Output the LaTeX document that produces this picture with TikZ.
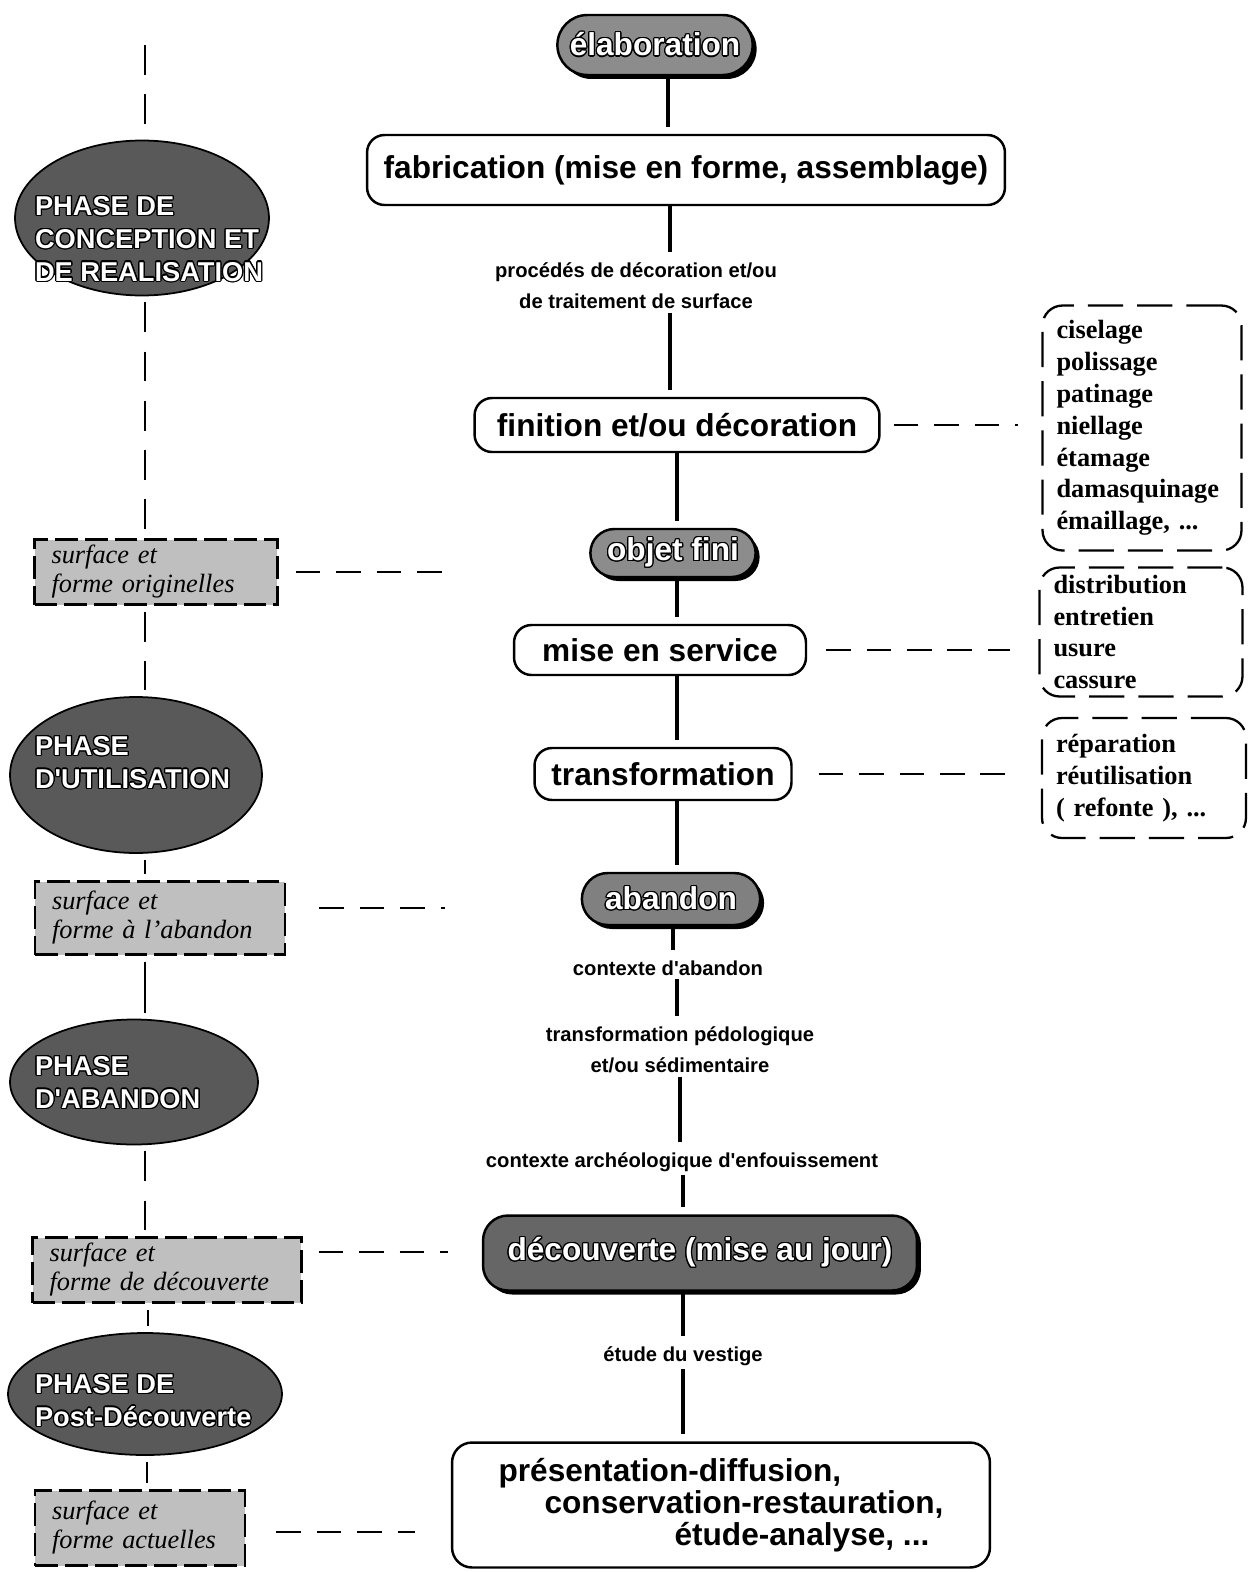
\documentclass[tikz,border=0pt]{standalone}
\usepackage{fontspec}
\setmainfont{Liberation Serif}
\newfontfamily\helv{Liberation Sans}
\usepackage{contour}
\contourlength{0.7pt}
\usetikzlibrary{shapes.geometric, shapes.misc, shadows}

% texte des phases : sans encombrement, place a la main
\newcommand{\phasetexte}[3]{\raisebox{#2}[0pt][0pt]{\makebox[0pt][l]{\hspace*{#1}\begin{tabular}{@{}l@{}}#3\end{tabular}}}}

\tikzset{
	phase/.style={ellipse, draw, line width=1pt, fill=black!65, text=white, inner sep=0pt, font=\helv\bfseries\fontsize{15.5}{18.7}\selectfont},
	etat/.style={rectangle, draw, line width=1.6pt, dash pattern=on 13pt off 4pt, fill=black!25, inner xsep=0.34cm, inner ysep=0pt, align=left, font=\itshape\fontsize{15}{16.5}\selectfont},
	etape/.style={rectangle, rounded corners=0.35cm, draw, line width=1.4pt, fill=white, font=\helv\bfseries\fontsize{18}{18.4}\selectfont},
	jalon/.style={rounded rectangle, draw, line width=1.4pt, fill=black!45, text=white, drop shadow={shadow xshift=0.08cm, shadow yshift=-0.08cm, fill=black, opacity=1}, font=\helv\bfseries\fontsize{18}{20}\selectfont},
	liste/.style={rectangle, rounded corners=0.4cm, draw, line width=1.3pt, dash pattern=on 20pt off 8pt, inner xsep=0.28cm, align=left, font=\bfseries\fontsize{15}{18.1}\selectfont},
	proc/.style={inner sep=2pt, align=center, font=\helv\bfseries\fontsize{11.5}{17.6}\selectfont},
	stem/.style={line width=2.3pt, shorten >=4pt},
	axe/.style={line width=1.5pt, dash pattern=on 17pt off 11pt, shorten <=0.12cm, shorten >=0.12cm},
	lien/.style={line width=1.2pt, dash pattern=on 14pt off 9pt}
}

\begin{document}
\begin{tikzpicture}[x=0.02cm, y=-0.02cm]
	\useasboundingbox (0,0) rectangle (1251,1572);

	% chaine operatoire
	\node at (655,45) [jalon, minimum width=4.14cm, minimum height=1.2cm] (elab) {\contour{black}{élaboration}};
	\node at (686,170) [etape, minimum width=12.76cm, minimum height=1.4cm] (fab) {fabrication (mise en forme, assemblage)};
	\node at (636,286) [proc] (procedes) {procédés de décoration et/ou\\de traitement de surface};
	\node at (677,425) [etape, minimum width=8.1cm, minimum height=1.08cm] (fin) {finition et/ou décoration};
	\node at (673,553) [jalon, minimum width=3.54cm, minimum height=0.96cm] (objet) {\contour{black}{objet fini}};
	\node at (660,650) [etape, minimum width=5.84cm, minimum height=1cm] (mes) {mise en service};
	\node at (663,774) [etape, minimum width=5.14cm, minimum height=1.04cm] (trans) {transformation};
	\node at (671,899) [jalon, fill=black!50, minimum width=3.8cm, minimum height=1.04cm] (aband) {\contour{black}{abandon}};
	\node at (668,968) [proc] (ctxab) {contexte d'abandon};
	\node at (680,1050) [proc] (pedo) {transformation pédologique\\et/ou sédimentaire};
	\node at (682,1162) [proc] (ctxarch) {contexte archéologique d'enfouissement};
	\node at (700,1253) [jalon, rectangle, rounded corners=0.5cm, fill=black!60, minimum width=8.68cm, minimum height=1.5cm] (decouv) {\contour{black}{découverte (mise au jour)}};
	\node at (683,1356) [proc] (etude) {étude du vestige};
	\node at (721,1505) [etape, rounded corners=0.4cm, align=left, minimum width=10.76cm, minimum height=2.5cm] (final) {présentation-diffusion,\\\hspace*{0.92cm}conservation-restauration,\\\hspace*{3.52cm}étude-analyse, ...};

	\draw[stem] (elab.south -| 668,0) -- (fab.north -| 668,0);
	\draw[stem] (fab.south -| 670,0) -- (procedes.north -| 670,0);
	\draw[stem] (procedes.south -| 670,0) -- (fin.north -| 670,0);
	\draw[stem] (fin.south -| 677,0) -- (objet.north -| 677,0);
	\draw[stem] (objet.south -| 677,0) -- (mes.north -| 677,0);
	\draw[stem] (mes.south -| 677,0) -- (trans.north -| 677,0);
	\draw[stem] (trans.south -| 677,0) -- (aband.north -| 677,0);
	\draw[stem] (aband.south -| 673,0) -- (ctxab.north -| 673,0);
	\draw[stem] (ctxab.south -| 677,0) -- (pedo.north -| 677,0);
	\draw[stem] (pedo.south -| 680,0) -- (ctxarch.north -| 680,0);
	\draw[stem] (ctxarch.south -| 683,0) -- (decouv.north -| 683,0);
	\draw[stem] (decouv.south -| 683,0) -- (etude.north -| 683,0);
	\draw[stem] (etude.south -| 683,0) -- (final.north -| 683,0);

	% listes a droite
	\node at (1142,428) [liste, text width=3.42cm, minimum height=4.9cm] (finitions) {ciselage\\polissage\\patinage\\niellage\\étamage\\damasquinage\\émaillage, ...};
	\node at (1141,632) [liste, text width=3.5cm, minimum height=2.58cm] (usages) {distribution\\entretien\\usure\\cassure};
	\node at (1144,778) [liste, text width=3.52cm, minimum height=2.4cm] (reprises) {réparation\\réutilisation\\( refonte ), ...};

	\draw[lien, shorten <=0.26cm, shorten >=0.46cm] (fin.east) -- (fin.east -| finitions.west);
	\draw[lien, shorten <=0.38cm, shorten >=0.56cm] (mes.east) -- (mes.east -| usages.west);
	\draw[lien, shorten <=0.52cm, shorten >=0.48cm] (trans.east) -- (trans.east -| reprises.west);

	% phases a gauche
	\coordinate (haut) at (145,45);
	\node at (142,218) [phase, minimum width=5.08cm, minimum height=3.1cm] (concep) {\phasetexte{-2.14cm}{-0.6cm}{\contour{black}{PHASE DE}\\\contour{black}{CONCEPTION ET}\\\contour{black}{DE REALISATION}}};
	\node at (156,572) [etat, text width=4.18cm, minimum height=1.3cm] (orig) {surface et\\forme originelles};
	\node at (136,775) [phase, minimum width=5.04cm, minimum height=3.12cm] (util) {\phasetexte{-2.02cm}{0.07cm}{\contour{black}{PHASE}\\\contour{black}{D'UTILISATION}}};
	\node at (160,918) [etat, text width=4.32cm, minimum height=1.46cm] (abandon) {surface et\\forme à l'abandon};
	\node at (134,1082) [phase, minimum width=4.96cm, minimum height=2.5cm] (aban) {\phasetexte{-1.98cm}{-0.19cm}{\contour{black}{PHASE}\\\contour{black}{D'ABANDON}}};
	\node at (167,1270) [etat, text width=4.7cm, minimum height=1.3cm] (decouverte) {surface et\\forme de découverte};
	\node at (145,1394) [phase, minimum width=5.48cm, minimum height=2.44cm] (post) {\phasetexte{-2.2cm}{-0.31cm}{\contour{black}{PHASE DE}\\\contour{black}{Post-Découverte}}};
	\node at (140,1528) [etat, text width=3.52cm, minimum height=1.5cm] (actuel) {surface et\\forme actuelles};

	\draw[axe, shorten <=0pt] (haut) -- (concep.north -| haut);
	\draw[axe] (concep.south -| haut) -- (orig.north -| haut);
	\draw[axe] (orig.south -| haut) -- (util.north -| haut);
	\draw[axe, solid] (util.south -| haut) -- (abandon.north -| haut);
	\draw[axe, solid] (abandon.south -| haut) -- (aban.north -| haut);
	\draw[axe] (aban.south -| haut) -- (decouverte.north -| haut);
	\draw[axe, solid] (decouverte.south -| 148,0) -- (post.north -| 148,0);
	\draw[axe, solid] (post.south -| 147,0) -- (actuel.north -| 147,0);

	\coordinate (o1) at (445,572);
	\coordinate (o2) at (445,908);
	\coordinate (o3) at (448,1252);
	\coordinate (o4) at (415,1532);
	\draw[lien, shorten <=0.34cm] (orig.east |- o1) -- (o1);
	\draw[lien, shorten <=0.66cm] (abandon.east |- o2) -- (o2);
	\draw[lien, shorten <=0.32cm] (decouverte.east |- o3) -- (o3);
	\draw[lien, shorten <=0.6cm] (actuel.east |- o4) -- (o4);
\end{tikzpicture}
\end{document}
